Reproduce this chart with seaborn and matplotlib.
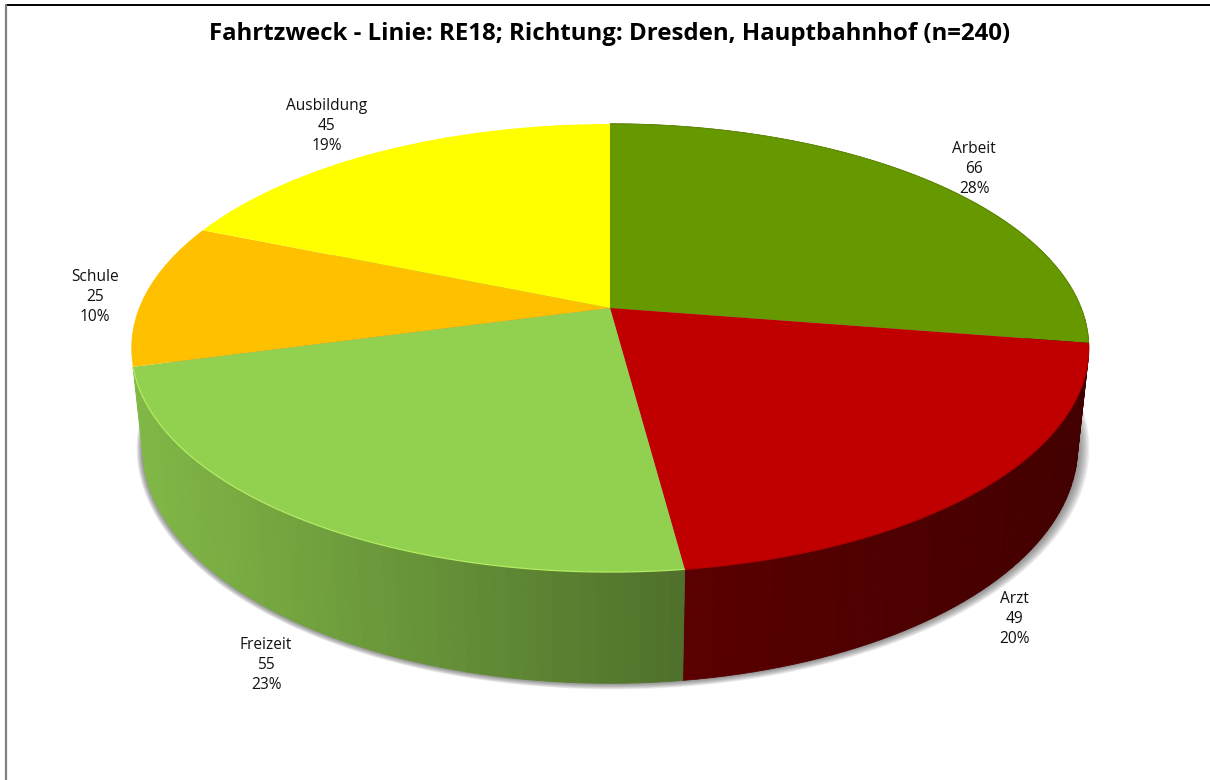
import numpy as np
import matplotlib

matplotlib.use("Agg")
import matplotlib.pyplot as plt
import seaborn as sns
from matplotlib.transforms import Transform

# Werte
categories = ["Arbeit", "Arzt", "Freizeit", "Schule", "Ausbildung"]
counts = [66, 49, 55, 25, 45]
percents = [28, 20, 23, 10, 19]
slice_colors = ["#669900", "#C00000", "#92D050", "#FFC000", "#FFFF00"]
label_xy = [(974, 169), (1014, 619), (266, 665), (95, 297), (327, 126)]

# Perspektive der Torte (in Pixeln der Abbildung)
CX, CY = 610, 308
SX, SY = 471, 216.9
TILT = 0.1786
DEPTH_Y, DEPTH_W = 100, 0.023


def project(x, y, z=0.0):
    # y > 0 zeigt zum Betrachter, z = 1 ist die Unterkante
    w = 1 - TILT * y + DEPTH_W * z
    return CX + SX * x / w, CY + (SY * y + DEPTH_Y * z) / w


class PieProjection(Transform):
    input_dims = 2
    output_dims = 2
    is_separable = False
    has_inverse = False

    def transform_non_affine(self, values):
        values = np.asarray(values)
        px, py = project(values[:, 0], -values[:, 1])
        return np.column_stack([px, py])


def rim(a0, a1, radius=1.0, z=0.0):
    # Winkel im Uhrzeigersinn ab 12 Uhr
    t = np.radians(np.append(np.arange(a0, a1, 1.0), a1))
    return project(radius * np.sin(t), -radius * np.cos(t), z)


def wall_shade(i, px):
    # Seitenwand wird nach rechts dunkler
    if categories[i] == "Freizeit":
        return 0.88 - 0.34 * (px - 140) / 545
    return 0.47 - 0.12 * (px - 685) / 395


sns.set_theme(style="white")
plt.rcParams["font.family"] = ["DejaVu Sans"]
palette = sns.color_palette(slice_colors)

fig, ax = plt.subplots(figsize=(12.1, 7.8), dpi=100)
fig.subplots_adjust(left=0, right=1, bottom=0, top=1)

wedges, _ = ax.pie(counts, colors=palette, startangle=90, counterclock=False, radius=1,
                   wedgeprops={"linewidth": 0})
ax.set_aspect("auto")
ax.set_xlim(0, 1210)
ax.set_ylim(780, 0)
projection = PieProjection() + ax.transData
for wedge in wedges:
    wedge.set_transform(projection)
    wedge.set_zorder(5)

# Schatten unter der Torte
for r, dx in zip(np.linspace(1.018, 1.002, 8), np.linspace(3.0, 0.5, 8)):
    sx, sy = rim(0, 360, radius=r, z=1.0)
    ax.fill(sx + dx, sy, color="#555555", alpha=0.11, lw=0, zorder=1)

# Seitenwaende, nur Arzt und Freizeit sind sichtbar
edges = np.cumsum([0] + counts) / sum(counts) * 360
for i, color in enumerate(palette):
    if categories[i] not in ("Arbeit", "Arzt", "Freizeit"):
        continue
    a0, a1 = edges[i], edges[i + 1]
    if categories[i] == "Arbeit":
        shade_i = 1
    else:
        shade_i = i
    steps = np.append(np.arange(a0, a1, 1.5), a1)
    for s0, s1 in zip(steps[:-1], steps[1:]):
        t = np.radians([s0, s1])
        tx, ty = project(np.sin(t), -np.cos(t))
        bx, by = project(np.sin(t), -np.cos(t), 1.0)
        shade = np.clip(wall_shade(shade_i, tx.mean()), 0, 1)
        c = tuple(np.array(palette[shade_i]) * shade)
        ax.fill([tx[0], tx[1], bx[1], bx[0]], [ty[0], ty[1], by[1], by[0]],
                color=c, lw=0.6, zorder=2)

# heller Rand an der Oberkante
for i, rim_color in [(0, "#5f9000"), (1, "#b00000"), (2, "#b4ec62")]:
    rx, ry = rim(edges[i], edges[i + 1])
    ax.plot(rx, ry, color=rim_color, lw=0.9, zorder=6, solid_capstyle="butt")

for name, count, pct, (lx, ly) in zip(categories, counts, percents, label_xy):
    ax.text(lx, ly, f"{name}\n{count}\n{pct}%", ha="center", va="center",
            fontsize=11.2, linespacing=1.3, color="#111111",
            family=["Open Sans", "DejaVu Sans"], zorder=7)

ax.text(610, 33.5, f"Fahrtzweck - Linie: RE18; Richtung: Dresden, Hauptbahnhof (n={sum(counts)})",
        ha="center", va="center", fontsize=17.3, fontweight="bold", color="black",
        family=["Open Sans", "DejaVu Sans"], zorder=7)

# Rahmen
ax.plot([5.5, 1210], [4.5, 4.5], color="black", lw=1.4, zorder=8)
ax.plot([5.7, 5.7], [4.5, 780], color="#808080", lw=1.6, zorder=8)

ax.set_axis_off()
fig.savefig("out.png", dpi=100)
plt.close(fig)
